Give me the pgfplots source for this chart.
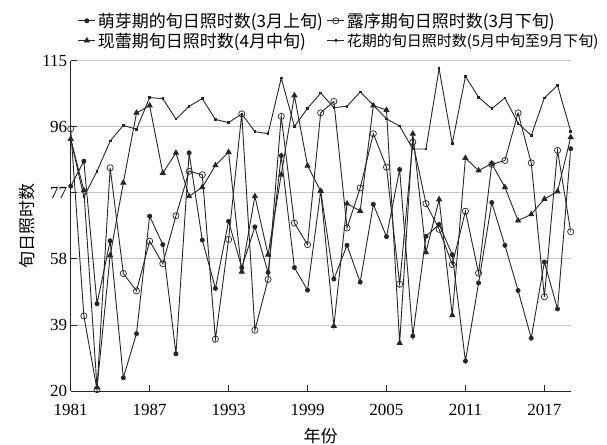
\documentclass[border=0pt]{standalone}
\usepackage{fontspec}
\setmainfont{Liberation Serif}
\newfontfamily\cjk{Noto Sans CJK SC}
\usepackage{pgfplots}
\usepackage{pgfplotstable}
\pgfplotsset{compat=1.18}
\pgfplotstableread{
year A B C D
1981 78.9 95.4 92.5 92.5
1982 86.1 41.6 77.7 75.8
1983 45.1 20.4 21.0 83.2
1984 63.2 84.2 59.0 91.9
1985 23.8 53.8 79.9 96.4
1986 36.5 48.8 100.0 95.3
1987 70.3 63.1 102.1 104.4
1988 62.1 56.6 82.7 104.1
1989 30.7 70.4 88.5 98.2
1990 88.5 83.2 76.0 101.9
1991 63.4 82.2 78.6 104.1
1992 49.5 34.9 84.9 98.1
1993 68.8 63.6 88.7 97.2
1994 55.5 99.7 54.3 99.7
1995 67.2 37.5 76.0 94.6
1996 54.1 52.1 59.2 94.0
1997 87.7 99.0 82.2 110.0
1998 55.5 68.3 105.0 96.1
1999 49.0 62.1 84.8 101.3
2000 77.5 100.0 77.5 105.7
2001 52.2 103.3 38.7 101.5
2002 61.9 66.9 73.9 101.9
2003 51.3 78.4 71.8 106.0
2004 73.7 94.0 102.1 102.2
2005 64.4 84.4 100.8 98.3
2006 83.7 50.7 33.8 96.2
2007 35.8 91.6 94.0 89.6
2008 64.5 73.9 59.9 89.6
2009 67.9 66.5 75.1 112.7
2010 59.2 56.4 41.8 91.2
2011 28.6 71.7 87.0 110.5
2012 51.1 53.9 83.4 104.5
2013 74.2 85.2 85.4 101.2
2014 61.9 86.3 78.6 104.3
2015 48.9 100.0 69.0 97.0
2016 35.2 85.6 70.8 93.5
2017 57.1 47.1 75.2 104.3
2018 43.6 89.2 77.4 107.9
2019 89.7 65.8 93.0 94.7
}\datatable
\begin{document}
\begin{tikzpicture}
\path[use as bounding box] (-70.7pt,-53.7pt) rectangle (536.3pt,391pt);
\begin{axis}[
  at={(0pt,0pt)}, anchor=south west,
  width=500pt, height=330.3pt, scale only axis,
  xmin=1981, xmax=2019, ymin=20, ymax=115,
  axis x line*=bottom, axis y line*=left,
  axis line style={black!85, line width=1pt},
  xtick={1981,1987,1993,1999,2005,2011,2017},
  ytick={20,39,58,77,96,115},
  ymajorgrids, grid style={black!22, line width=0.8pt},
  tick align=inside, major tick length=6pt,
  tick style={black!85, line width=0.8pt},
  /pgf/number format/assume math mode=true,
  x tick label style={/pgf/number format/set thousands separator={}, yshift=-10pt},
  tick label style={font=\fontsize{17}{17}\selectfont},
  xlabel={\cjk 年份}, ylabel={\cjk 旬日照时数},
  label style={font=\fontsize{17}{17}\selectfont},
  xlabel style={yshift=-5pt},
  legend columns=2,
  legend cell align=left,
  legend style={draw=none, fill=none, at={(0.008,1)}, anchor=south west, yshift=8pt,
    font=\cjk\fontsize{17}{21}\selectfont,
    /tikz/every even column/.append style={column sep=2pt}},
  every axis plot/.append style={line width=0.9pt, black!85},
]
\addplot[mark=*, mark size=2pt] table[x=year, y=A] {\datatable};
\addlegendentry{萌芽期的旬日照时数(3月上旬)}
\addplot[mark=o, mark size=3.1pt, mark options={fill=white, line width=0.7pt}] table[x=year, y=B] {\datatable};
\addlegendentry{露序期旬日照时数(3月下旬)}
\addplot[mark=triangle*, mark size=2.8pt] table[x=year, y=C] {\datatable};
\addlegendentry{现蕾期旬日照时数(4月中旬)}
\addplot[mark=square*, mark size=0.8pt] table[x=year, y=D] {\datatable};
\addlegendentry{{\fontsize{15}{21}\selectfont 花期的旬日照时数(5月中旬至9月下旬)}}
\end{axis}
\end{tikzpicture}
\end{document}
